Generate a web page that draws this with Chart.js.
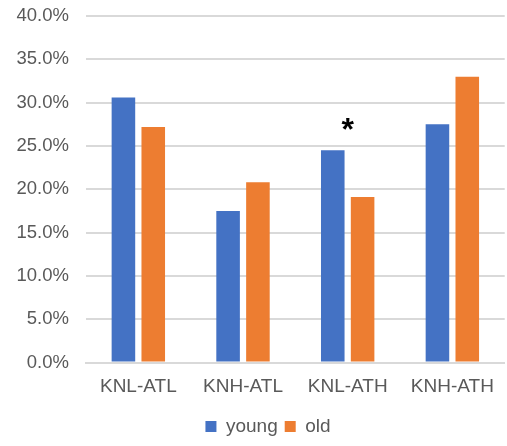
<!DOCTYPE html>
<html>
<head>
<meta charset="utf-8">
<script src="https://cdn.jsdelivr.net/npm/chart.js@4"></script>
<style>
    html, body { margin: 0; padding: 0; background: #ffffff; }
    #wrap { width: 507px; height: 446px; }
</style>
</head>
<body>
<div id="wrap"><canvas id="groupChart"></canvas></div>
<script>
// categories and series (percent)
const categories = ['KNL-ATL', 'KNH-ATL', 'KNL-ATH', 'KNH-ATH'];
const youngValues = [30.6, 17.5, 24.5, 27.5];
const oldValues = [27.2, 20.8, 19.1, 33.0];
const yTicks = [0, 5, 10, 15, 20, 25, 30, 35, 40];

// significance marks
const starCategories = ['KNL-ATH'];
const starLabels = ['*'];

const COLORS = {
    young: '#4472C4',
    old: '#ED7D31',
    grid: '#D9D9D9',
    text: '#595959'
};

const FONT = 'Liberation Sans, Arial, sans-serif';

// asterisk above a group
const starPlugin = {
    id: 'stars',
    afterDatasetsDraw(chart) {
        const { ctx, scales } = chart;
        ctx.save();
        ctx.fillStyle = '#000000';
        ctx.font = 'bold 32px ' + FONT;
        ctx.textAlign = 'center';
        ctx.textBaseline = 'middle';
        starCategories.forEach((cat, i) => {
            const idx = categories.indexOf(cat);
            const top = Math.max(youngValues[idx], oldValues[idx]);
            const x = scales.x.getPixelForValue(idx);
            const y = scales.y.getPixelForValue(top) - 19;
            ctx.fillText(starLabels[i], x, y);
        });
        ctx.restore();
    }
};

// legend sits a little right of centre, like the original
const legendShift = {
    id: 'legendShift',
    afterLayout(chart) {
        chart.legend.left += 15;
        chart.legend.right += 15;
    }
};

new Chart(document.getElementById('groupChart'), {
    type: 'bar',
    data: {
        labels: categories,
        datasets: [
            {
                label: 'young',
                data: youngValues,
                backgroundColor: COLORS.young,
                categoryPercentage: 0.57,
                barPercentage: 0.79
            },
            {
                label: 'old',
                data: oldValues,
                backgroundColor: COLORS.old,
                categoryPercentage: 0.57,
                barPercentage: 0.79
            }
        ]
    },
    options: {
        responsive: true,
        maintainAspectRatio: false,
        animation: false,
        layout: {
            padding: { top: 5, right: 1, bottom: 0, left: 0 }
        },
        plugins: {
            legend: {
                position: 'bottom',
                labels: {
                    color: COLORS.text,
                    font: { family: FONT, size: 19 },
                    boxWidth: 11,
                    boxHeight: 11,
                    padding: 7
                }
            },
            tooltip: { enabled: false }
        },
        scales: {
            x: {
                afterFit(scale) { scale.height = 47.5; },
                grid: { display: false, drawTicks: false },
                border: { color: COLORS.grid, width: 2 },
                ticks: {
                    color: COLORS.text,
                    font: { family: FONT, size: 19 },
                    padding: 13
                }
            },
            y: {
                min: 0,
                max: 40,
                afterFit(scale) { scale.width = 86; },
                afterBuildTicks(scale) {
                    scale.ticks = yTicks.map(v => ({ value: v }));
                },
                grid: {
                    color: COLORS.grid,
                    lineWidth: 2,
                    drawTicks: true,
                    tickLength: 12,
                    tickColor: 'rgba(0,0,0,0)'
                },
                border: { display: false },
                ticks: {
                    color: COLORS.text,
                    font: { family: FONT, size: 18.5 },
                    padding: 5,
                    callback: value => value.toFixed(1) + '%'
                }
            }
        }
    },
    plugins: [starPlugin, legendShift]
});
</script>
</body>
</html>
